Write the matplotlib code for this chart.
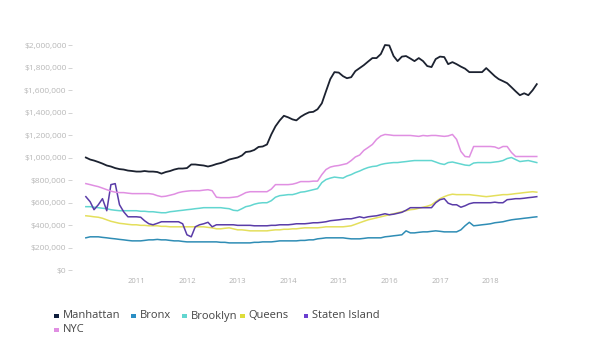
import matplotlib
matplotlib.use("Agg")
import matplotlib.pyplot as plt
import matplotlib.dates as mdates
from matplotlib.ticker import FuncFormatter
from matplotlib.patches import Rectangle
import pandas as pd
import datetime as dt

plt.rcParams['font.family'] = ['Open Sans', 'DejaVu Sans']

dates = pd.date_range('2010-01-01', periods=108, freq='MS')

# values in thousands of dollars
manhattan = [1000,982,973,960,946,929,920,906,897,893,884,880,
             875,875,880,875,875,871,857,871,880,893,902,902,
             906,938,938,933,929,920,929,942,951,964,982,991,
             1000,1018,1049,1054,1067,1094,1098,1116,1205,1277,1330,1371,
             1357,1339,1330,1362,1384,1402,1406,1429,1482,1589,1697,1759,
             1755,1723,1705,1714,1768,1795,1821,1853,1884,1884,1920,2000,
             1996,1902,1857,1897,1902,1880,1857,1884,1857,1813,1804,1875,
             1897,1893,1830,1848,1830,1808,1790,1759,1759,1759,1759,1795,
             1759,1723,1697,1679,1661,1625,1589,1554,1571,1554,1598,1652]
bronx = [286,295,295,295,290,286,281,277,272,268,263,259,
         259,259,263,268,268,272,268,268,263,259,259,254,
         250,250,250,250,250,250,250,250,246,246,241,241,
         241,241,241,241,246,246,250,250,250,254,259,259,
         259,259,259,263,263,268,268,277,281,286,286,286,
         286,286,281,277,277,277,281,286,286,286,286,295,
         299,304,308,313,348,330,330,335,339,339,344,348,
         344,339,339,339,339,357,393,424,393,397,402,406,
         411,420,424,429,438,446,451,455,460,464,469,473]
brooklyn = [563,563,558,554,549,545,536,531,527,527,527,527,
            527,522,522,518,518,513,509,509,518,522,527,531,
            536,540,545,549,554,554,554,554,554,549,545,531,
            527,545,563,571,585,594,598,598,616,647,661,665,
            670,670,679,692,696,705,714,723,777,804,817,826,
            821,817,835,848,866,880,897,911,920,924,938,946,
            951,955,955,960,964,969,973,973,973,973,973,960,
            946,938,955,960,951,942,933,929,951,955,955,955,
            955,960,964,973,991,1000,982,964,969,973,964,955]
queens = [482,478,473,469,460,446,433,424,415,411,406,402,
          402,397,397,393,393,393,388,388,384,384,384,384,
          384,384,384,384,384,379,375,366,366,371,375,366,
          357,357,353,348,348,348,348,348,353,357,357,362,
          362,366,366,371,375,375,375,375,379,384,384,384,
          384,384,388,393,406,420,433,446,455,464,473,482,
          491,500,509,518,527,536,540,549,558,567,580,607,
          634,652,665,674,670,670,670,670,665,661,656,652,
          656,661,665,670,670,674,679,683,688,692,696,692]
staten_island = [652,607,536,580,634,527,759,768,580,518,473,473,
                 473,469,438,411,402,415,429,429,429,429,429,411,
                 313,295,384,402,411,424,384,402,402,402,402,402,
                 397,397,397,397,393,393,393,393,397,397,402,402,
                 402,406,411,411,411,415,420,420,424,429,438,442,
                 446,451,455,455,464,473,464,473,478,482,491,500,
                 491,496,504,513,531,554,554,554,554,554,554,598,
                 625,634,594,580,580,558,571,589,598,598,598,598,
                 598,603,598,598,625,629,634,634,638,643,647,652]
nyc = [768,759,750,741,728,714,701,692,688,688,683,679,
       679,679,679,679,674,661,652,656,665,674,688,696,
       701,705,705,705,710,714,705,647,643,643,643,647,
       652,670,688,696,696,696,696,696,719,759,759,759,
       759,763,772,786,786,786,790,790,848,893,915,924,
       929,938,946,973,1005,1022,1063,1089,1116,1161,1192,1205,
       1201,1196,1196,1196,1196,1196,1192,1188,1196,1192,1196,1196,
       1192,1188,1192,1205,1161,1054,1009,1005,1098,1098,1098,1098,
       1098,1094,1080,1098,1098,1045,1009,1009,1009,1009,1009,1009]

series_names = ['Manhattan', 'Bronx', 'Brooklyn', 'Queens', 'Staten Island', 'NYC']
series_values = [manhattan, bronx, brooklyn, queens, staten_island, nyc]
line_colors = ['#1c2230', '#2f8db5', '#62d6d0', '#e4df5c', '#5a3ca8', '#e08fe2']
legend_colors = ['#0f1e3c', '#2a8ec4', '#62d6d0', '#dedd3a', '#6a3fd0', '#e08fe2']
year_ticks = [2011, 2012, 2013, 2014, 2015, 2016, 2017, 2018]
y_ticks = [0, 200000, 400000, 600000, 800000, 1000000, 1200000, 1400000,
           1600000, 1800000, 2000000]

W, H = 600, 356
fig = plt.figure(figsize=(6.0, 3.56), dpi=100)
ax = fig.add_axes([72 / W, (H - 270) / H, (548 - 72) / W, (270 - 39.4) / H])

for name, vals, col in zip(series_names, series_values, line_colors):
    lw = 1.3 if name == 'Manhattan' else 1.1
    ax.plot(dates, [v * 1000 for v in vals], color=col, lw=lw,
            solid_joinstyle='round')

ax.set_xlim(dt.date(2009, 9, 23), dt.date(2019, 2, 20))
ax.set_ylim(0, 2050000)

ax.set_yticks(y_ticks)
ax.yaxis.set_major_formatter(FuncFormatter(lambda v, p: '$0' if v == 0 else '${:,.0f}'.format(v)))
ax.set_xticks([dt.date(y, 1, 1) for y in year_ticks])
ax.xaxis.set_major_formatter(mdates.DateFormatter('%Y'))

ax.tick_params(axis='y', length=3, width=0.6, color='#cccccc', labelcolor='#b8b8b8',
               labelsize=6, pad=1)
ax.tick_params(axis='x', length=0, labelcolor='#b0b0b0', labelsize=5.5, pad=6)
for s in ax.spines.values():
    s.set_visible(False)
ax.grid(False)

# legend (manual layout, two rows)
legend_pos = [(54, 316), (131, 316), (182, 316), (240, 316), (304, 316), (54, 330)]
for (px, py), name, col in zip(legend_pos, series_names, legend_colors):
    sq = 4.5
    fig.patches.append(Rectangle((px / W, (H - py - sq / 2) / H), sq / W, sq / H,
                                 transform=fig.transFigure, facecolor=col,
                                 edgecolor='none'))
    fig.text((px + 8.5) / W, (H - py) / H, name, fontsize=8, color='#444444',
             va='center', ha='left')

fig.savefig('out.png', dpi=100)
